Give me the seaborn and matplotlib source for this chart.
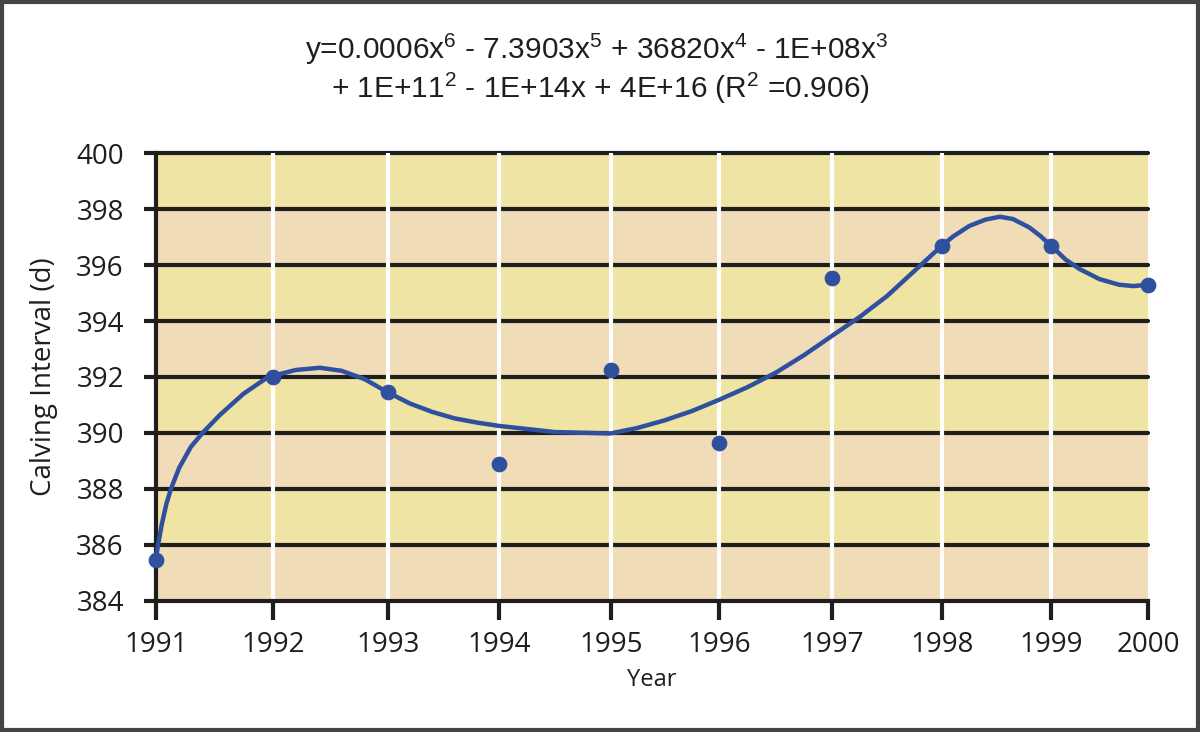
import numpy as np
import pandas as pd
import matplotlib
matplotlib.use("Agg")
import matplotlib.pyplot as plt
import seaborn as sns
from matplotlib.patches import Rectangle

# data
years = [1991, 1992, 1993, 1994, 1995, 1996, 1997, 1998, 1999, 2000]
calving_interval = [385.45, 392.0, 391.45, 388.9, 392.25, 389.65, 395.55, 396.7, 396.7, 395.3]

# trend curve as drawn in the chart
trend_years = [1991.0, 1991.005, 1991.02, 1991.05, 1991.09, 1991.13, 1991.2, 1991.3,
               1991.4, 1991.55, 1991.75, 1991.96, 1992.2, 1992.41, 1992.6, 1992.8,
               1993.0, 1993.2, 1993.4, 1993.6, 1993.8, 1994.0, 1994.5, 1995.0,
               1995.25, 1995.5, 1995.75, 1996.0, 1996.25, 1996.5, 1996.75, 1997.0,
               1997.25, 1997.5, 1997.75, 1998.0, 1998.1, 1998.25, 1998.4, 1998.53,
               1998.65, 1998.8, 1998.9, 1999.0, 1999.15, 1999.3, 1999.5, 1999.7,
               1999.85, 2000.0]
trend_values = [385.45, 385.6, 386.0, 386.7, 387.45, 388.0, 388.75, 389.5,
                390.0, 390.65, 391.4, 392.0, 392.25, 392.33, 392.22, 391.92,
                391.45, 391.05, 390.75, 390.52, 390.37, 390.25, 390.03, 389.98,
                390.18, 390.45, 390.78, 391.18, 391.63, 392.15, 392.78, 393.48,
                394.15, 394.9, 395.8, 396.7, 397.02, 397.4, 397.63, 397.73,
                397.65, 397.35, 397.05, 396.7, 396.2, 395.85, 395.5, 395.3,
                395.25, 395.3]

y_ticks = [384, 386, 388, 390, 392, 394, 396, 398, 400]
equation_line1 = "y=0.0006x$^{6}$ - 7.3903x$^{5}$ + 36820x$^{4}$ - 1E+08x$^{3}$"
equation_line2 = "+ 1E+11$^{2}$ - 1E+14x + 4E+16 (R$^{2}$ =0.906)"

# the year axis in the original is not evenly spaced (fraction of axis width per year)
year_axis_pos = [0.0, 0.1179, 0.2338, 0.3460, 0.4585, 0.5674, 0.6819, 0.7924, 0.9022, 1.0]

df = pd.DataFrame({"Year": years, "Calving": calving_interval})
trend = pd.DataFrame({"Year": trend_years, "Calving": trend_values})

sns.set_theme(style="white")
plt.rcParams["font.family"] = ["Open Sans", "DejaVu Sans"]
plt.rcParams["mathtext.fontset"] = "custom"
plt.rcParams["mathtext.rm"] = "Liberation Sans"
plt.rcParams["mathtext.it"] = "Liberation Sans"

yellow = "#efe4a3"
tan = "#f1dcb8"
blue = "#2f4f9f"
ink = "#1e1e1e"

fig = plt.figure(figsize=(12, 7.32), dpi=100)
ax = fig.add_axes([0.1298, 0.1794, 0.8269, 0.6112])

fwd = lambda x: np.interp(x, years, year_axis_pos)
inv = lambda u: np.interp(u, year_axis_pos, years)
ax.set_xscale("function", functions=(fwd, inv))

# alternating bands
for i, lo in enumerate(y_ticks[:-1]):
    ax.axhspan(lo, y_ticks[i + 1], color=tan if i % 2 == 0 else yellow, zorder=0, lw=0)
for v in y_ticks[1:]:
    ax.axhline(v, color=ink, lw=3, zorder=1, clip_on=False)
for yr in years[1:-1]:
    ax.axvline(yr, color="white", lw=3, zorder=2)

sns.lineplot(data=trend, x="Year", y="Calving", ax=ax, color=blue, lw=3.2, zorder=3,
             solid_joinstyle="round", solid_capstyle="round")
ax.lines[-1].set_clip_on(False)
sns.scatterplot(data=df, x="Year", y="Calving", ax=ax, color=blue, s=110,
                edgecolor=blue, zorder=4, clip_on=False)

ax.set_xlim(1991, 2000)
ax.set_ylim(384, 400)
ax.set_xticks(years)
ax.set_xticklabels([str(y) for y in years])
ax.minorticks_off()
ax.set_yticks(y_ticks)
ax.tick_params(axis="both", labelsize=20, colors=ink, width=3)
ax.tick_params(axis="y", length=9, pad=14, direction="out", left=True)
ax.tick_params(axis="x", length=14, pad=8, direction="out", bottom=True)
for s in ["top", "right"]:
    ax.spines[s].set_visible(False)
for s in ["left", "bottom"]:
    ax.spines[s].set_color(ink)
    ax.spines[s].set_linewidth(3)

ax.set_xlabel("Year", fontsize=17, labelpad=6, color=ink)
ax.set_ylabel("Calving Interval (d)", fontsize=20, labelpad=13, color=ink)

fig.text(0.497, 0.933, equation_line1, ha="center", va="center", fontsize=21.5,
         family=["Liberation Sans", "DejaVu Sans"], color=ink)
fig.text(0.5, 0.879, equation_line2, ha="center", va="center", fontsize=21.5,
         family=["Liberation Sans", "DejaVu Sans"], color=ink)

fig.patches.append(Rectangle((0.002, 0.003), 0.996, 0.994, transform=fig.transFigure,
                             fill=False, edgecolor="#444444", lw=3))

fig.savefig("out.png", dpi=100)
